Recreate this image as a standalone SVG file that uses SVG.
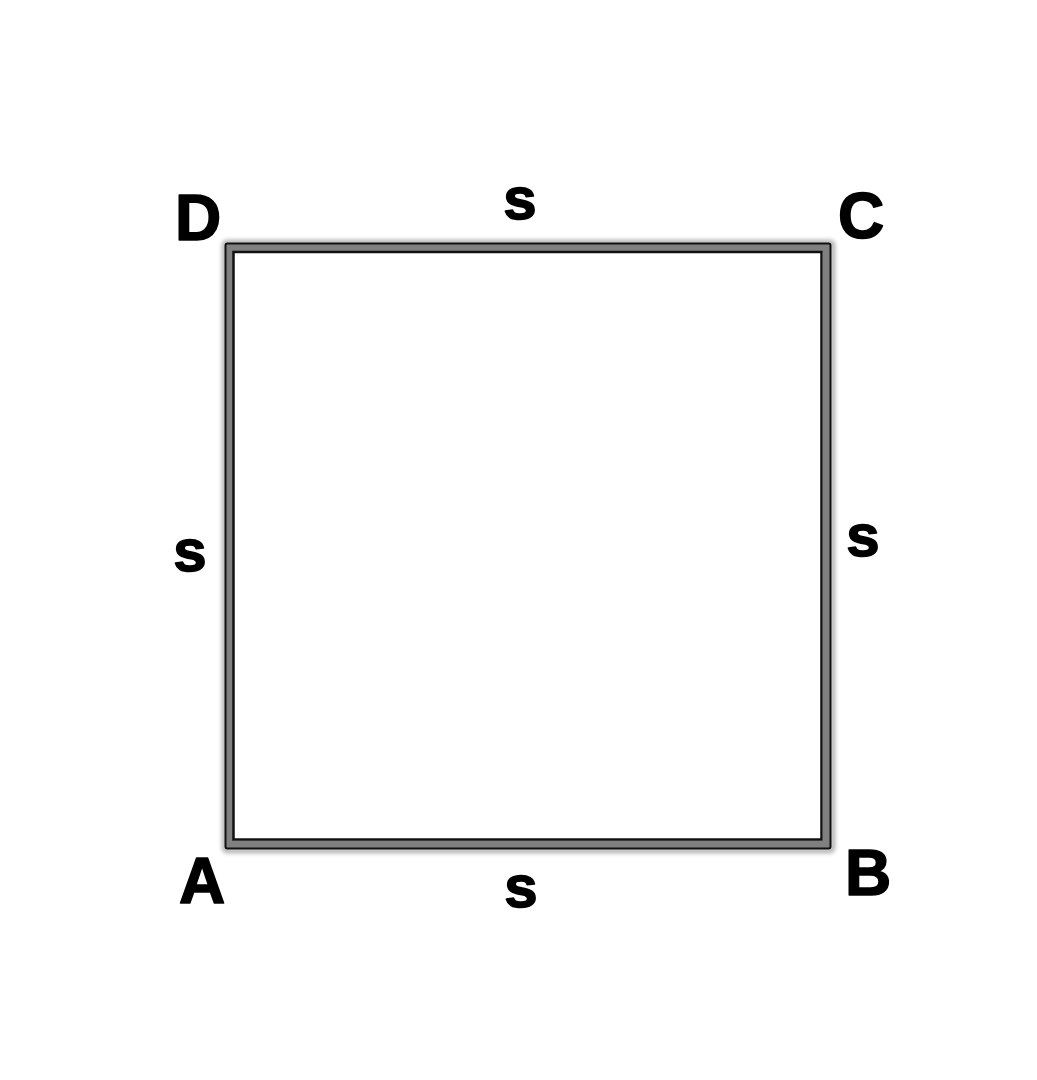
<svg xmlns="http://www.w3.org/2000/svg" width="1037" height="1080" viewBox="0 0 1037 1080">
<style>
.v{font-family:"Liberation Sans",Arial,sans-serif;font-weight:bold;fill:#000;stroke:#000;stroke-width:1.6;stroke-linejoin:round;text-anchor:middle}
.big{font-size:64px}
.side{font-size:60px}
</style>
<defs>
<filter id="sh" x="-5%" y="-5%" width="110%" height="110%"><feGaussianBlur stdDeviation="2"/></filter>
</defs>
<rect width="1037" height="1080" fill="#fff"/>
<g id="square">
<rect x="224" y="242" width="609" height="609" rx="3" fill="none" stroke="#000" stroke-opacity="0.35" stroke-width="4" filter="url(#sh)"/>
<rect x="229" y="247.5" width="598" height="597" fill="none" stroke="#808080" stroke-width="8"/>
<rect x="225.5" y="243.5" width="605" height="605" rx="2" fill="none" stroke="#111" stroke-width="2"/>
<rect x="233.5" y="252" width="588" height="587.5" fill="#fff" stroke="#111" stroke-width="2.5"/>
</g>
<g id="vertices">
<text class="v big" x="198" y="240">D</text>
<text class="v big" x="861" y="238">C</text>
<text class="v big" x="202" y="903">A</text>
<text class="v big" x="868" y="895">B</text>
</g>
<g id="sides">
<text class="v side" x="520" y="219">s</text>
<text class="v side" x="190" y="571">s</text>
<text class="v side" x="863" y="556">s</text>
<text class="v side" x="521" y="907">s</text>
</g>
</svg>
